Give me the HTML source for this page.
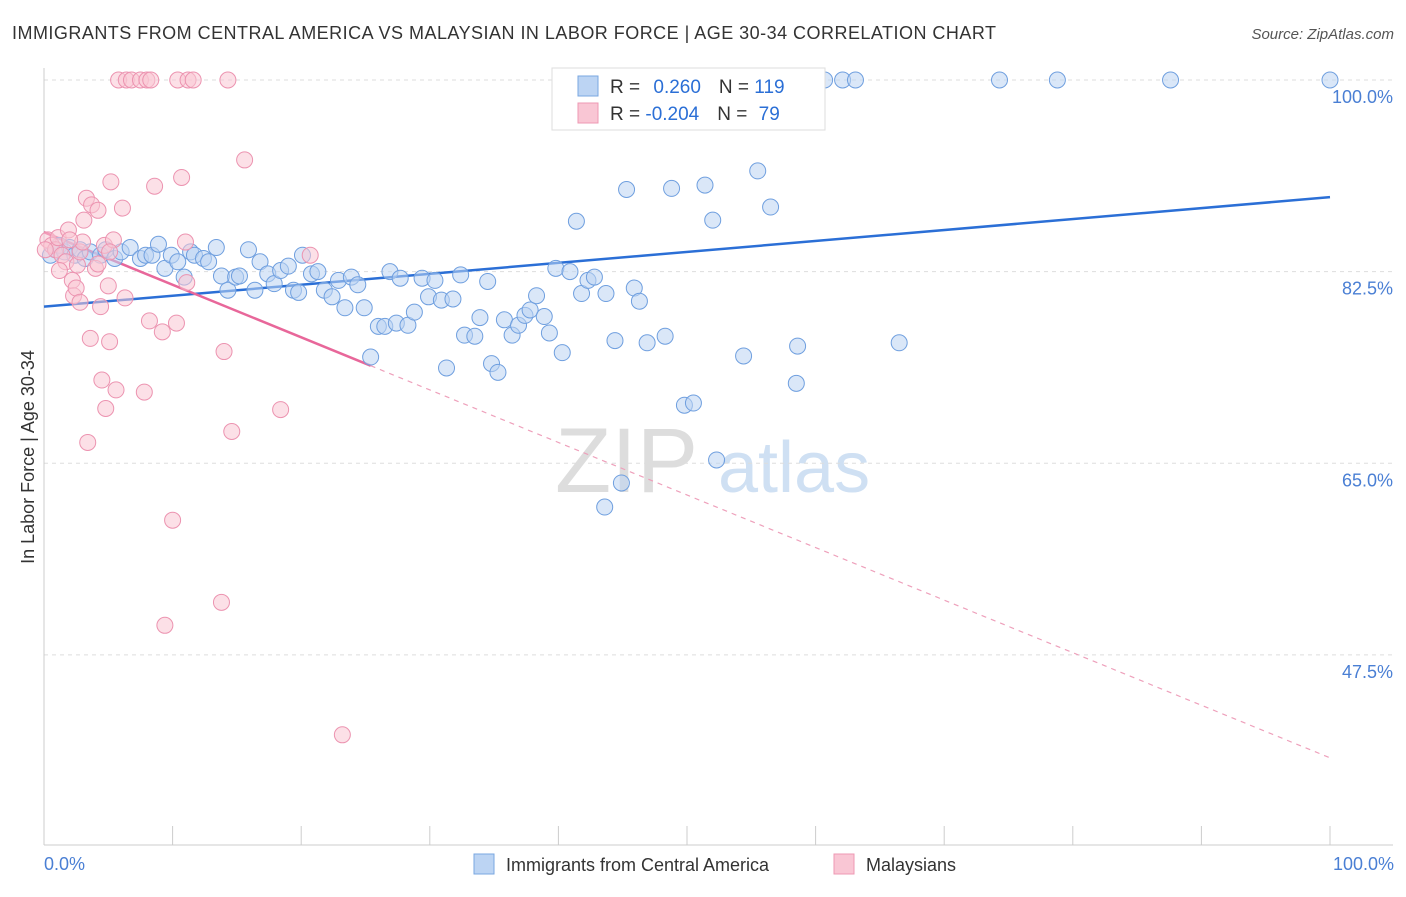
<!DOCTYPE html>
<html><head><meta charset="utf-8"><style>
body{margin:0;background:#fff;font-family:"Liberation Sans",sans-serif;}
svg text{font-family:"Liberation Sans",sans-serif;}
</style></head><body>
<svg id="chart" width="1406" height="892">
<text x="12" y="39" font-size="18" fill="#333" textLength="984" lengthAdjust="spacing">IMMIGRANTS FROM CENTRAL AMERICA VS MALAYSIAN IN LABOR FORCE | AGE 30-34 CORRELATION CHART</text>
<text x="1394" y="39" font-size="15" fill="#555" font-style="italic" text-anchor="end">Source: ZipAtlas.com</text>
<g><text x="555" y="492" font-size="92" fill="#ddd" font-family="Liberation Serif">ZIP</text><text x="718" y="492" font-size="72" fill="#cfe0f3">atlas</text></g>
<g id="grid"></g><g id="axes"></g><g id="lines"></g><g id="pts"></g>
<text transform="translate(34,457) rotate(-90)" font-size="18" fill="#333" text-anchor="middle">In Labor Force | Age 30-34</text>
<text x="44" y="870" font-size="18" fill="#4a7fd4">0.0%</text>
<text x="1394" y="870" font-size="18" fill="#4a7fd4" text-anchor="end">100.0%</text>
<g>
<rect x="552" y="68" width="273" height="62" fill="#fff" stroke="#ddd"/>
<rect x="578" y="76" width="20" height="20" fill="#bcd4f3" stroke="#7aa7e0"/>
<rect x="578" y="103" width="20" height="20" fill="#f9c6d4" stroke="#ee98b3"/>
<text x="610" y="93" font-size="19" fill="#333">R = <tspan fill="#2b6fd6" dx="8">0.260</tspan><tspan dx="18">N = </tspan><tspan fill="#2b6fd6">119</tspan></text>
<text x="610" y="120" font-size="19" fill="#333">R = <tspan fill="#2b6fd6">-0.204</tspan><tspan dx="18">N = </tspan><tspan fill="#2b6fd6" dx="6">79</tspan></text>
</g>
<g>
<rect x="474" y="854" width="20" height="20" fill="#bcd4f3" stroke="#7aa7e0"/>
<text x="506" y="871" font-size="18" fill="#333">Immigrants from Central America</text>
<rect x="834" y="854" width="20" height="20" fill="#f9c6d4" stroke="#ee98b3"/>
<text x="866" y="871" font-size="18" fill="#333">Malaysians</text>
</g>
</svg>
<script>
const yTicks=[100,82.5,65,47.5];
const xTickCount=10;
const blueX=[0.5,0.9,1.2,1.6,2.0,2.4,2.8,3.2,3.6,4.4,4.8,5.5,6.0,6.7,7.5,7.9,8.4,8.9,9.4,9.9,10.4,10.9,11.4,11.7,12.4,12.8,13.4,13.8,14.3,14.9,15.2,15.9,16.4,16.8,17.4,17.9,18.4,19.0,19.4,19.8,20.1,20.8,21.3,21.8,22.4,22.9,23.4,23.9,24.4,24.9,25.4,26.0,26.5,26.9,27.4,27.7,28.3,28.8,29.4,29.9,30.4,30.9,31.3,31.8,32.4,32.7,33.5,33.9,34.5,34.8,35.3,35.8,36.4,36.9,37.4,37.8,38.3,38.9,39.3,39.8,40.3,40.9,41.4,41.8,42.3,42.8,43.7,44.4,44.9,45.3,45.9,46.3,43.6,46.9,48.3,48.8,49.8,50.5,51.4,52.0,52.3,54.4,55.5,56.5,58.5,58.6,66.5,47.5,53.7,59.6,60.7,62.1,63.1,74.3,78.8,87.6,100];
const blueY=[84.0,84.5,84.9,84.3,84.7,84.0,84.5,83.7,84.3,84.0,84.5,83.7,84.3,84.7,83.7,84.0,84.0,85.0,82.8,84.0,83.4,82.0,84.3,84.0,83.7,83.4,84.7,82.1,80.8,82.0,82.1,84.5,80.8,83.4,82.3,81.4,82.6,83.0,80.8,80.6,84.0,82.3,82.5,80.8,80.2,81.7,79.2,82.0,81.3,79.2,74.7,77.5,77.5,82.5,77.8,81.9,77.6,78.8,81.9,80.2,81.7,79.9,73.7,80.0,82.2,76.7,76.6,78.3,81.6,74.1,73.3,78.1,76.7,77.6,78.5,79.0,80.3,78.4,76.9,82.8,75.1,82.5,87.1,80.5,81.7,82.0,80.5,76.2,63.2,90.0,81.0,79.8,61.0,76.0,76.6,90.1,70.3,70.5,90.4,87.2,65.3,74.8,91.7,88.4,72.3,75.7,76.0,100,100,100,100,100,100,100,100,100,100];
const pinkX=[0.3,0.6,0.9,1.1,1.4,1.7,1.9,2.2,2.3,2.5,2.6,2.8,3.0,3.1,3.3,3.4,3.6,3.7,4.0,4.2,4.4,4.5,4.7,4.8,5.0,5.1,5.2,5.4,5.6,6.1,6.3,7.8,8.2,8.6,9.2,9.4,10.0,10.3,10.7,11.0,11.1,13.8,14.0,14.6,15.6,18.4,20.7,23.2,1.2,2.0,0.1,5.1,4.2,2.8,5.8,6.4,6.8,7.5,8.0,8.3,10.4,11.2,11.6,14.3];
const pinkY=[85.4,84.9,84.5,85.6,84.0,83.4,86.3,81.7,80.3,81.0,83.1,84.3,85.2,87.2,89.2,66.9,76.4,88.6,82.8,88.1,79.3,72.6,84.9,70.0,81.2,76.1,90.7,85.4,71.7,88.3,80.1,71.5,78.0,90.3,77.0,50.2,59.8,77.8,91.1,85.2,81.5,52.3,75.2,67.9,92.7,69.9,84.0,40.2,82.6,85.4,84.5,84.3,83.2,79.7,100,100,100,100,100,100,100,100,100,100];
const blueLine=[79.3,89.3];
const pinkLine=[86.1,38.1];
const pinkSolidEnd=25.4;
const X=v=>44+v*12.86, Y=v=>80+(100-v)*10.95;
const NS='http://www.w3.org/2000/svg';
function mk(tag,attrs,parent){const e=document.createElementNS(NS,tag);for(const k in attrs)e.setAttribute(k,attrs[k]);document.getElementById(parent).appendChild(e);return e;}
yTicks.forEach(t=>{
 const l=mk('line',{x1:44,x2:1393,y1:Y(t),y2:Y(t),stroke:'#ddd','stroke-dasharray':'4,4'},'grid');
 
 
 const tx=mk('text',{x:1393,y:Y(t)+23,'font-size':18,fill:'#4a7fd4','text-anchor':'end'},'grid');
 tx.textContent=t.toFixed(1)+'%';
 
 
});
let ax=mk('line',{x1:44,x2:44,y1:68,y2:845,stroke:'#ccc'},'axes');


ax=mk('line',{x1:44,x2:1393,y1:845,y2:845,stroke:'#ccc'},'axes');


for(let i=0;i<=xTickCount;i++){const v=i*100/xTickCount;
 const t=mk('line',{x1:X(v),x2:X(v),y1:826,y2:845,stroke:'#ccc'},'axes');
 
 }
function circ(xs,ys,fill,stroke,name){xs.forEach((x,i)=>{
 const c=mk('circle',{cx:X(x),cy:Y(ys[i]),r:8,fill:fill,'fill-opacity':0.55,stroke:stroke,'stroke-width':1},'pts');
 
 });}
circ(blueX,blueY,'#bcd4f3','#6f9fdf','blue-point');
circ(pinkX,pinkY,'#f9c6d4','#ec93b0','pink-point');
let ln=mk('line',{x1:X(0),y1:Y(blueLine[0]),x2:X(100),y2:Y(blueLine[1]),stroke:'#2b6fd6','stroke-width':2.5},'lines');


const py=v=>pinkLine[0]+(pinkLine[1]-pinkLine[0])*v/100;
ln=mk('line',{x1:X(0),y1:Y(py(0)),x2:X(pinkSolidEnd),y2:Y(py(pinkSolidEnd)),stroke:'#e8679a','stroke-width':2.5},'lines');


ln=mk('line',{x1:X(pinkSolidEnd),y1:Y(py(pinkSolidEnd)),x2:X(100),y2:Y(py(100)),stroke:'#eea0bb','stroke-width':1.2,'stroke-dasharray':'5,5'},'lines');


</script>
</body></html>
